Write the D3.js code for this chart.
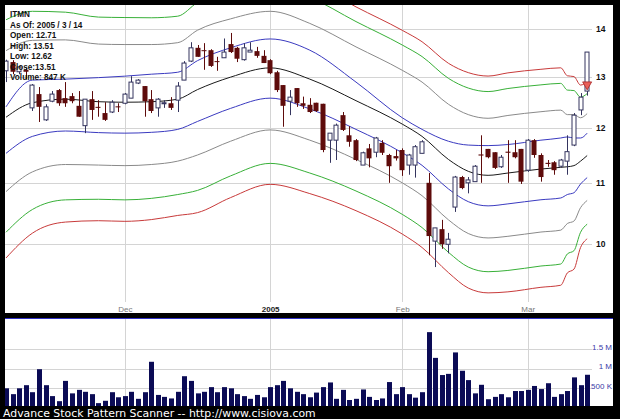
<!DOCTYPE html>
<html>
<head>
<meta charset="utf-8">
<script src="https://cdn.jsdelivr.net/npm/d3@7"></script>
<style>
  html, body { margin: 0; padding: 0; background: #000; }
  svg { display: block; }
</style>
</head>
<body>
<svg id="chart" width="620" height="419"></svg>
<script>
// ---- data -------------------------------------------------------------
const symbol = "ITMN";
const asOf = "2005 / 3 / 14";

const dates = [
  "2004-11-04","2004-11-05","2004-11-08","2004-11-09","2004-11-10","2004-11-11","2004-11-12","2004-11-15","2004-11-16","2004-11-17",
  "2004-11-18","2004-11-19","2004-11-22","2004-11-23","2004-11-24","2004-11-26","2004-11-29","2004-11-30",
  "2004-12-01","2004-12-02","2004-12-03","2004-12-06","2004-12-07","2004-12-08","2004-12-09","2004-12-10","2004-12-13","2004-12-14",
  "2004-12-15","2004-12-16","2004-12-17","2004-12-20","2004-12-21","2004-12-22","2004-12-23","2004-12-27","2004-12-28","2004-12-29",
  "2004-12-30","2004-12-31",
  "2005-01-03","2005-01-04","2005-01-05","2005-01-06","2005-01-07","2005-01-10","2005-01-11","2005-01-12","2005-01-13","2005-01-14",
  "2005-01-18","2005-01-19","2005-01-20","2005-01-21","2005-01-24","2005-01-25","2005-01-26","2005-01-27","2005-01-28","2005-01-31",
  "2005-02-01","2005-02-02","2005-02-03","2005-02-04","2005-02-07","2005-02-08","2005-02-09","2005-02-10","2005-02-11","2005-02-14",
  "2005-02-15","2005-02-16","2005-02-17","2005-02-18","2005-02-22","2005-02-23","2005-02-24","2005-02-25","2005-02-28",
  "2005-03-01","2005-03-02","2005-03-03","2005-03-04","2005-03-07","2005-03-08","2005-03-09","2005-03-10","2005-03-11","2005-03-14"
];

const open = [
  13.12,13.30,13.10,13.14,12.38,12.65,12.15,12.51,12.73,12.57,
  12.61,12.42,12.04,12.55,12.40,12.28,12.30,12.41,12.47,12.57,
  12.87,12.81,12.55,12.38,12.46,12.47,12.53,12.93,13.32,13.60,
  13.55,13.55,13.32,13.39,13.68,13.60,13.35,13.51,13.53,13.43,
  13.34,13.09,12.83,12.51,12.77,12.47,12.44,12.48,12.46,11.77,
  11.77,12.24,11.86,11.77,11.32,11.62,11.55,11.72,11.50,11.48,
  11.59,11.32,11.32,11.53,11.01,10.05,10.24,10.00,10.60,11.11,
  11.01,11.03,11.51,11.61,11.55,11.29,11.56,11.55,11.61,11.23,
  11.77,11.50,11.36,11.37,11.30,11.39,11.68,12.34,12.71
];
const high = [
  13.35,13.34,13.22,13.18,12.85,12.79,12.45,12.71,12.75,12.89,
  12.67,12.71,12.55,12.71,12.53,12.49,12.53,12.47,12.67,13.01,
  12.95,12.81,12.73,12.57,12.53,12.59,12.89,13.32,13.72,13.66,
  13.70,13.57,13.41,13.80,13.92,13.62,13.70,13.72,13.62,13.55,
  13.36,13.12,12.83,12.73,12.77,12.60,12.57,12.48,12.46,11.90,
  12.08,12.30,12.03,11.79,11.56,11.70,11.83,11.77,11.52,11.59,
  11.62,11.52,11.68,11.77,11.18,10.26,10.39,10.18,11.13,11.13,
  11.11,11.32,11.86,11.61,11.55,11.50,11.77,11.77,11.61,11.79,
  11.79,11.53,11.41,11.39,11.43,11.86,12.28,12.67,13.51
];
const low = [
  12.89,13.05,13.05,12.95,12.32,12.11,12.13,12.49,12.42,12.40,
  12.47,12.21,11.90,12.15,12.21,12.13,12.28,12.30,12.45,12.57,
  12.85,12.21,12.28,12.21,12.38,12.34,12.30,12.93,13.30,13.41,
  13.14,13.20,13.12,13.39,13.49,13.30,13.33,13.51,13.39,13.28,
  13.05,12.69,12.02,12.24,12.40,12.36,12.28,12.30,11.55,11.36,
  11.41,11.94,11.65,11.39,11.32,11.28,11.46,11.50,11.01,11.40,
  11.13,11.15,11.10,11.53,9.83,9.65,9.93,9.86,10.52,10.90,
  10.83,11.03,11.01,11.44,11.25,11.27,11.01,11.44,10.99,11.20,
  11.45,11.03,11.29,11.15,11.28,11.15,11.66,12.24,12.62
];
const close = [
  13.32,13.10,13.20,13.10,12.83,12.40,12.40,12.65,12.47,12.47,
  12.51,12.21,12.55,12.34,12.38,12.15,12.49,12.39,12.65,12.89,
  12.93,12.51,12.32,12.55,12.48,12.38,12.81,13.28,13.60,13.41,
  13.53,13.22,13.30,13.51,13.51,13.37,13.60,13.55,13.43,13.28,
  13.07,12.73,12.42,12.59,12.47,12.42,12.30,12.32,11.59,11.90,
  12.05,11.96,11.74,11.41,11.54,11.44,11.81,11.54,11.30,11.44,
  11.23,11.50,11.65,11.74,10.13,10.26,10.00,10.08,11.11,10.92,
  11.06,11.30,11.49,11.46,11.27,11.46,11.54,11.46,11.03,11.77,
  11.50,11.11,11.34,11.23,11.41,11.56,12.24,12.59,13.51
];
// daily volume, thousands of shares
const volumeK = [
  500,350,500,580,400,990,580,300,170,690,
  370,460,410,350,120,180,400,270,300,410,
  230,400,1180,330,280,240,410,810,690,370,
  410,530,400,530,500,350,300,230,330,270,
  530,580,690,500,410,350,270,390,530,650,
  230,460,200,230,470,280,200,240,660,350,
  530,350,260,400,1940,1280,840,870,1420,950,
  710,370,590,220,280,350,270,430,430,460,
  560,480,630,280,350,430,780,580,847
];

// envelope: centre line, band unit and inner upper line, sampled on these sessions
const bandDates = [
  "2004-11-04","2004-11-10","2004-11-17","2004-11-24","2004-12-01","2004-12-07","2004-12-13","2004-12-16",
  "2004-12-23","2005-01-03","2005-01-11","2005-01-21","2005-02-01","2005-02-04","2005-02-10","2005-02-15",
  "2005-02-18","2005-02-24","2005-03-03","2005-03-08","2005-03-09","2005-03-10","2005-03-11","2005-03-14"
];
const bandMid = [12.20,12.48,12.55,12.50,12.49,12.50,12.55,12.74,12.99,13.18,12.95,12.52,12.07,11.84,11.42,11.21,11.14,11.18,11.25,11.28,11.29,11.31,11.39,11.49];
const bandDev = [0.67,0.64,0.61,0.59,0.59,0.585,0.58,0.62,0.62,0.61,0.59,0.55,0.53,0.525,0.515,0.52,0.52,0.527,0.528,0.528,0.48,0.47,0.40,0.39];
const innerUpper = [12.40,12.93,12.95,12.98,13.01,13.05,13.09,13.33,13.60,13.79,13.55,12.89,12.19,11.97,11.75,11.68,11.67,11.69,11.77,11.81,11.83,11.81,11.81,11.90];

// outer bands (multiples of the band unit) and their colours
const bandSteps = [-3.6, -3, -2, -1, 0, 2, 3, 3.6];
const bandColors = ["#c83a3a", "#38b038", "#8a8a8a", "#3a3ac0", "#1a1a1a", "#8a8a8a", "#38b038", "#c83a3a"];
const innerUpperColor = "#3a3ac0";

const priceTicks = [10, 11, 12, 13, 14];
const volumeTicks = [500, 1000, 1500];
const volumeTickLabels = ["500 K", "1 M", "1.5 M"];
const monthTickDates = ["2004-12-01", "2005-01-03", "2005-02-01", "2005-03-01"];
const monthTickLabels = ["Dec", "2005", "Feb", "Mar"];
const footer = "Advance Stock Pattern Scanner -- http://www.cisiova.com";

// ---- layout -----------------------------------------------------------
const W = 620, H = 419;
const main = { x: 5, y: 5, w: 608, h: 308 };
const vol = { x: 5, y: 319, w: 608, h: 87 };

const svg = d3.select("#chart");
svg.append("rect").attr("width", W).attr("height", H).attr("fill", "#000");

const x = d3.scalePoint().domain(dates).range([6, 6 + (dates.length - 1) * 6.604]);
const y = d3.scaleLog().domain([10, 14]).range([244.3, 29.3]);
const yv = d3.scaleLinear().domain([0, 1500]).range([407.8, 349.3]);

const defs = svg.append("defs");
defs.append("clipPath").attr("id", "clipMain").append("rect")
  .attr("x", main.x).attr("y", main.y).attr("width", main.w).attr("height", main.h);
defs.append("clipPath").attr("id", "clipVol").append("rect")
  .attr("x", vol.x).attr("y", vol.y).attr("width", vol.w).attr("height", vol.h);

// panels
svg.append("rect").attr("x", main.x).attr("y", main.y).attr("width", main.w).attr("height", main.h).attr("fill", "#fff");
svg.append("rect").attr("x", vol.x).attr("y", vol.y).attr("width", vol.w).attr("height", vol.h).attr("fill", "#fff");
svg.append("line").attr("x1", vol.x).attr("x2", vol.x + vol.w).attr("y1", 318.5).attr("y2", 318.5)
  .attr("stroke", "#3030c8").attr("stroke-width", 1.2);

const gridColor = "#d4d4d4";

// ---- price panel ------------------------------------------------------
const gMain = svg.append("g").attr("clip-path", "url(#clipMain)");

gMain.selectAll("line.hgrid").data(priceTicks).join("line")
  .attr("x1", main.x).attr("x2", 592)
  .attr("y1", d => Math.round(y(d)) + 0.5).attr("y2", d => Math.round(y(d)) + 0.5)
  .attr("stroke", gridColor).attr("stroke-width", 1);

gMain.selectAll("line.vgrid").data(monthTickDates).join("line")
  .attr("x1", d => Math.round(x(d)) + 0.5).attr("x2", d => Math.round(x(d)) + 0.5)
  .attr("y1", main.y).attr("y2", 302)
  .attr("stroke", gridColor).attr("stroke-width", 1);

// envelope lines
const bandRows = bandDates.map((d, i) => ({ date: d, mid: bandMid[i], dev: bandDev[i], inner: innerUpper[i] }));
const drawBand = (valueOf, color) => {
  const line = d3.line()
    .x(d => x(d.date))
    .y(d => y(valueOf(d)))
    .curve(d3.curveMonotoneX);
  gMain.append("path").datum(bandRows)
    .attr("d", line)
    .attr("fill", "none")
    .attr("stroke", color)
    .attr("stroke-width", 1);
};
bandSteps.forEach((k, j) => drawBand(d => d.mid + k * d.dev, bandColors[j]));
drawBand(d => d.inner, innerUpperColor);

// candles
const rows = dates.map((d, i) => ({ date: d, o: open[i], h: high[i], l: low[i], c: close[i], v: volumeK[i] }));
const upStroke = "#34345e";
const downFill = "#5e0b0b";
const bodyW = 5;

const candle = gMain.selectAll("g.candle").data(rows).join("g");
candle.append("line")
  .attr("x1", d => Math.round(x(d.date)) + 0.5).attr("x2", d => Math.round(x(d.date)) + 0.5)
  .attr("y1", d => y(d.h)).attr("y2", d => y(d.l))
  .attr("stroke", d => d.c >= d.o ? upStroke : downFill).attr("stroke-width", 1);
candle.append("rect")
  .attr("x", d => Math.round(x(d.date)) - 2 + (d.c >= d.o ? 0 : -0.5))
  .attr("width", d => d.c >= d.o ? bodyW - 1 : bodyW)
  .attr("y", d => y(Math.max(d.o, d.c)))
  .attr("height", d => Math.max(1, Math.abs(y(d.o) - y(d.c))))
  .attr("fill", d => d.c >= d.o ? "#fff" : downFill)
  .attr("stroke", d => d.c >= d.o ? upStroke : "none")
  .attr("stroke-width", 1);

// signal marker on the last session, hanging from the outer upper band
const last = rows[rows.length - 1];
const lastBand = bandRows[bandRows.length - 1];
const markTop = y(lastBand.mid + bandSteps[bandSteps.length - 1] * lastBand.dev);
const mx = x(last.date);
gMain.append("path")
  .attr("d", `M${mx - 4.5},${markTop} L${mx + 4.5},${markTop} L${mx},${markTop + 8} Z`)
  .attr("fill", "#e8605a").attr("stroke", "#a82424").attr("stroke-width", 0.8);

// price labels
svg.selectAll("text.price").data(priceTicks).join("text")
  .attr("x", 596).attr("y", d => y(d)).attr("dy", "0.35em")
  .attr("font-family", "Liberation Sans, Arial, sans-serif")
  .attr("font-size", 8.5).attr("font-weight", "bold").attr("fill", "#111")
  .text(d => d);

// month labels
svg.selectAll("text.month").data(monthTickDates).join("text")
  .attr("x", d => x(d) + 0.5).attr("y", 312)
  .attr("text-anchor", "middle")
  .attr("font-family", "Liberation Sans, Arial, sans-serif")
  .attr("font-size", 8)
  .attr("font-weight", (d, i) => monthTickLabels[i] === "2005" ? "bold" : "normal")
  .attr("fill", (d, i) => monthTickLabels[i] === "2005" ? "#222" : "#777")
  .text((d, i) => monthTickLabels[i]);

// quote box
const n = rows.length - 1;
const info = [
  symbol,
  "As Of: " + asOf,
  "Open: " + open[n].toFixed(2),
  "High: " + high[n].toFixed(2),
  "Low: " + low[n].toFixed(2),
  "Close:" + close[n].toFixed(2),
  "Volume: " + volumeK[n] + " K"
];
svg.selectAll("text.info").data(info).join("text")
  .attr("x", 10).attr("y", (d, i) => 17.3 + i * 10.45)
  .attr("font-family", "Liberation Sans, Arial, sans-serif")
  .attr("font-size", 8.2).attr("font-weight", "bold").attr("fill", "#111")
  .text(d => d);

// ---- volume panel -----------------------------------------------------
const gVol = svg.append("g").attr("clip-path", "url(#clipVol)");
gVol.selectAll("line.vh").data(volumeTicks).join("line")
  .attr("x1", vol.x).attr("x2", 592)
  .attr("y1", d => Math.round(yv(d)) + 0.5).attr("y2", d => Math.round(yv(d)) + 0.5)
  .attr("stroke", gridColor);
gVol.selectAll("line.vv").data(monthTickDates).join("line")
  .attr("x1", d => Math.round(x(d)) + 0.5).attr("x2", d => Math.round(x(d)) + 0.5)
  .attr("y1", vol.y).attr("y2", vol.y + vol.h)
  .attr("stroke", gridColor);
gVol.selectAll("rect.bar").data(rows).join("rect")
  .attr("x", d => Math.round(x(d.date)) - 2)
  .attr("width", bodyW)
  .attr("y", d => yv(d.v))
  .attr("height", d => yv(0) - yv(d.v))
  .attr("fill", "#0b0b55");
svg.selectAll("text.vl").data(volumeTicks).join("text")
  .attr("x", 612).attr("y", d => yv(d) - 2.5).attr("dy", "0.35em")
  .attr("text-anchor", "end")
  .attr("font-family", "Liberation Sans, Arial, sans-serif")
  .attr("font-size", 8).attr("fill", "#3a3aa8")
  .text((d, i) => volumeTickLabels[i]);

// footer
svg.append("text")
  .attr("x", 3).attr("y", 416.5)
  .attr("font-family", "DejaVu Sans, Verdana, sans-serif")
  .attr("font-size", 10.9).attr("fill", "#fff")
  .text(footer);
</script>
</body>
</html>
